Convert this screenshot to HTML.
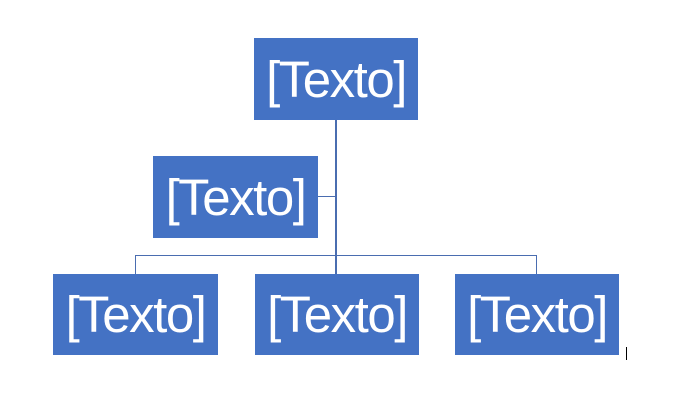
<!DOCTYPE html>
<html><head><style>
body{margin:0;width:690px;height:415px;background:#fff;position:relative;overflow:hidden;font-family:"Liberation Sans",sans-serif}
.b{position:absolute;background:#4472c4;color:#fff;display:flex;align-items:center;justify-content:center;font-size:51px;letter-spacing:-1.5px;line-height:1}
.l{position:absolute;background:#4a6db0}
</style></head><body>
<div class="l" style="left:335px;top:120px;width:2px;height:154px"></div>
<div class="l" style="left:318px;top:196px;width:18px;height:1px"></div>
<div class="l" style="left:135px;top:255px;width:402px;height:1px"></div>
<div class="l" style="left:135px;top:255px;width:1px;height:19px"></div>
<div class="l" style="left:536px;top:255px;width:1px;height:19px"></div>
<div class="b" style="left:254px;top:38px;width:164px;height:82px">[Texto]</div>
<div class="b" style="left:153px;top:156px;width:165px;height:82px">[Texto]</div>
<div class="b" style="left:53px;top:274px;width:165px;height:81px">[Texto]</div>
<div class="b" style="left:255px;top:274px;width:164px;height:81px">[Texto]</div>
<div class="b" style="left:455px;top:274px;width:164px;height:81px">[Texto]</div>
<div class="l" style="left:626px;top:347px;width:1px;height:13px;background:#000"></div>
</body></html>
